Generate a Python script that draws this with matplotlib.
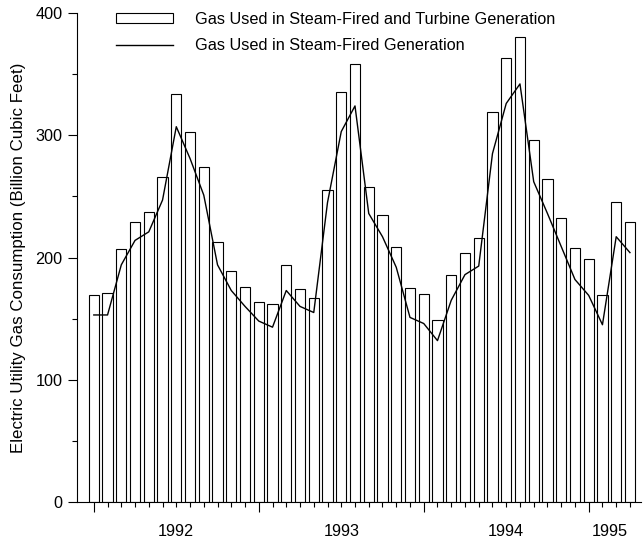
import numpy as np
import matplotlib
matplotlib.use("Agg")
import matplotlib.pyplot as plt
from matplotlib.patches import Patch
from matplotlib.lines import Line2D

plt.rcParams['font.family'] = ['Liberation Sans', 'DejaVu Sans']

# monthly values, Jan 1992 .. Apr 1995
total_gas = [169, 171, 207, 229, 237, 266, 334, 303, 274, 213, 189, 176,
             164, 162, 194, 174, 167, 255, 335, 358, 258, 235, 209, 175,
             170, 149, 186, 204, 216, 319, 363, 380, 296, 264, 232, 208,
             199, 169, 245, 229]
steam_gas = [153, 153, 194, 214, 221, 247, 307, 281, 251, 194, 173, 160,
             148, 143, 173, 160, 155, 245, 303, 324, 236, 217, 192, 151,
             146, 132, 165, 186, 193, 285, 326, 342, 262, 236, 209, 182,
             169, 145, 217, 204]
year_labels = ['1992', '1993', '1994', '1995']
year_label_pos = [6, 18, 30, 37.5]
year_starts = [0, 12, 24, 36]

x = np.arange(len(total_gas))

fig = plt.figure(figsize=(6.43, 5.42), dpi=100)
ax = fig.add_axes([0.1198, 0.0738, 0.877, 0.9022])

ax.bar(x, total_gas, width=0.75, color='white', edgecolor='black', linewidth=0.8)
ax.plot(x, steam_gas, color='black', linewidth=1.0)

ax.set_xlim(-1.22, 39.8)
ax.set_ylim(0, 400)

for s in ['top', 'right']:
    ax.spines[s].set_visible(False)
ax.spines['left'].set_linewidth(0.8)
ax.spines['bottom'].set_linewidth(0.8)

ax.set_yticks([0, 100, 200, 300, 400])
ax.set_yticks([50, 150, 250, 350], minor=True)
ax.set_xticks(year_starts)
ax.set_xticklabels([])
ax.set_xticks(x, minor=True)
ax.tick_params(axis='both', which='major', direction='out', length=7, width=0.8,
               labelsize=11.7, pad=4)
ax.tick_params(axis='both', which='minor', direction='out', length=3.8, width=0.8)
ax.tick_params(axis='y', which='major', length=6.5)

for pos, lab in zip(year_label_pos, year_labels):
    ax.annotate(lab, xy=(pos, -0.061), xycoords=('data', 'axes fraction'),
                ha='center', va='center', fontsize=11.7)

ax.set_ylabel('Electric Utility Gas Consumption (Billion Cubic Feet)', fontsize=12.2,
              labelpad=7)

handles = [Patch(facecolor='white', edgecolor='black', linewidth=0.8),
           Line2D([], [], color='black', linewidth=1.0)]
labels = ['Gas Used in Steam-Fired and Turbine Generation',
          'Gas Used in Steam-Fired Generation']
fig.legend(handles, labels, loc='upper left', bbox_to_anchor=(116 / 643, 1 - 12 / 542),
           frameon=False, fontsize=11.7, handlelength=3.5, handleheight=0.55,
           handletextpad=1.35, labelspacing=0.7, borderpad=0, borderaxespad=0)

fig.savefig('out.png', dpi=100)
